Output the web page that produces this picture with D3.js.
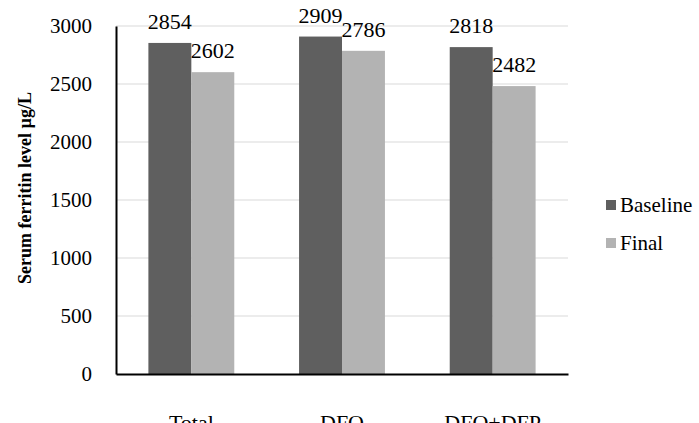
<!DOCTYPE html>
<html>
<head>
<meta charset="utf-8">
<script src="https://cdn.jsdelivr.net/npm/d3@7/dist/d3.min.js"></script>
<style>
  html, body { margin: 0; padding: 0; background: #fff; }
  svg { display: block; }
</style>
</head>
<body>
<svg id="chart" width="699" height="423" font-family="Liberation Serif"></svg>
<script>
// Serum ferritin, baseline vs final, by treatment group
const categories = ["Total", "DFO", "DFO+DFP"];
const seriesNames = ["Baseline", "Final"];
const baselineValues = [2854, 2909, 2818];
const finalValues = [2602, 2786, 2482];
const yTicks = [0, 500, 1000, 1500, 2000, 2500, 3000];
const seriesColors = ["#5f5f5f", "#b3b3b3"];

const FONT = "Liberation Serif";
const svg = d3.select("#chart");
const plot = { left: 116, right: 568, top: 26, bottom: 374 };

const x = d3.scaleBand().domain(categories).range([plot.left, plot.right]).paddingInner(0).paddingOuter(0);
const barW = x.bandwidth() * 0.285;
const xs = d3.scaleBand().domain(seriesNames).range([x.bandwidth() / 2 - barW, x.bandwidth() / 2 + barW]);
const y = d3.scaleLinear().domain([0, 3000]).range([plot.bottom, plot.top]);

const rows = categories.map((c, i) => ({ cat: c, values: [baselineValues[i], finalValues[i]] }));

// horizontal gridlines
svg.append("g")
  .selectAll("line")
  .data(yTicks.filter(t => t > 0))
  .join("line")
  .attr("x1", plot.left).attr("x2", plot.right)
  .attr("y1", d => y(d)).attr("y2", d => y(d))
  .attr("stroke", "#d9d9d9").attr("stroke-width", 1);

// bars
const groups = svg.append("g").selectAll("g")
  .data(rows).join("g")
  .attr("transform", d => `translate(${x(d.cat)},0)`);

groups.selectAll("rect")
  .data(d => d.values.map((v, j) => ({ name: seriesNames[j], v, j })))
  .join("rect")
  .attr("x", d => xs(d.name))
  .attr("y", d => y(d.v))
  .attr("width", xs.bandwidth())
  .attr("height", d => y(0) - y(d.v))
  .attr("fill", d => seriesColors[d.j]);

// value labels above each bar
groups.selectAll("text.val")
  .data(d => d.values.map((v, j) => ({ name: seriesNames[j], v, j })))
  .join("text")
  .attr("class", "val")
  .attr("x", d => xs(d.name) + xs.bandwidth() / 2)
  .attr("y", d => y(d.v) - 14)
  .attr("text-anchor", "middle")
  .attr("font-family", FONT)
  .attr("font-size", 22)
  .attr("fill", "#000")
  .text(d => d.v);

// y axis
const yAxis = d3.axisLeft(y).tickValues(yTicks).tickSize(0).tickPadding(24).tickFormat(d3.format("d"));
const yg = svg.append("g").attr("transform", `translate(${plot.left},0)`).call(yAxis);
yg.attr("font-family", FONT);
yg.select(".domain").attr("stroke", "#000").attr("stroke-width", 2);
yg.selectAll("text").attr("font-size", 21).attr("font-family", FONT).attr("fill", "#000");

// x axis
const xAxis = d3.axisBottom(x).tickSize(0).tickPadding(40);
const xg = svg.append("g").attr("transform", `translate(0,${plot.bottom})`).call(xAxis);
xg.attr("font-family", FONT);
xg.select(".domain").attr("stroke", "#000").attr("stroke-width", 2);
xg.selectAll("text").attr("font-size", 22).attr("font-family", FONT).attr("fill", "#000");

// y axis title
svg.append("text")
  .attr("transform", "translate(31,188) rotate(-90)")
  .attr("text-anchor", "middle")
  .attr("font-family", FONT)
  .attr("font-size", 18)
  .attr("font-weight", "bold")
  .text("Serum ferritin level µg/L");

// legend
const legend = svg.append("g").selectAll("g")
  .data(seriesNames).join("g")
  .attr("transform", (d, i) => `translate(606,${205 + i * 38})`);
legend.append("rect").attr("x", 0).attr("y", -5).attr("width", 10).attr("height", 10)
  .attr("fill", (d, i) => seriesColors[i]);
legend.append("text").attr("x", 14).attr("y", 7)
  .attr("font-family", FONT).attr("font-size", 21).text(d => d);
</script>
</body>
</html>
